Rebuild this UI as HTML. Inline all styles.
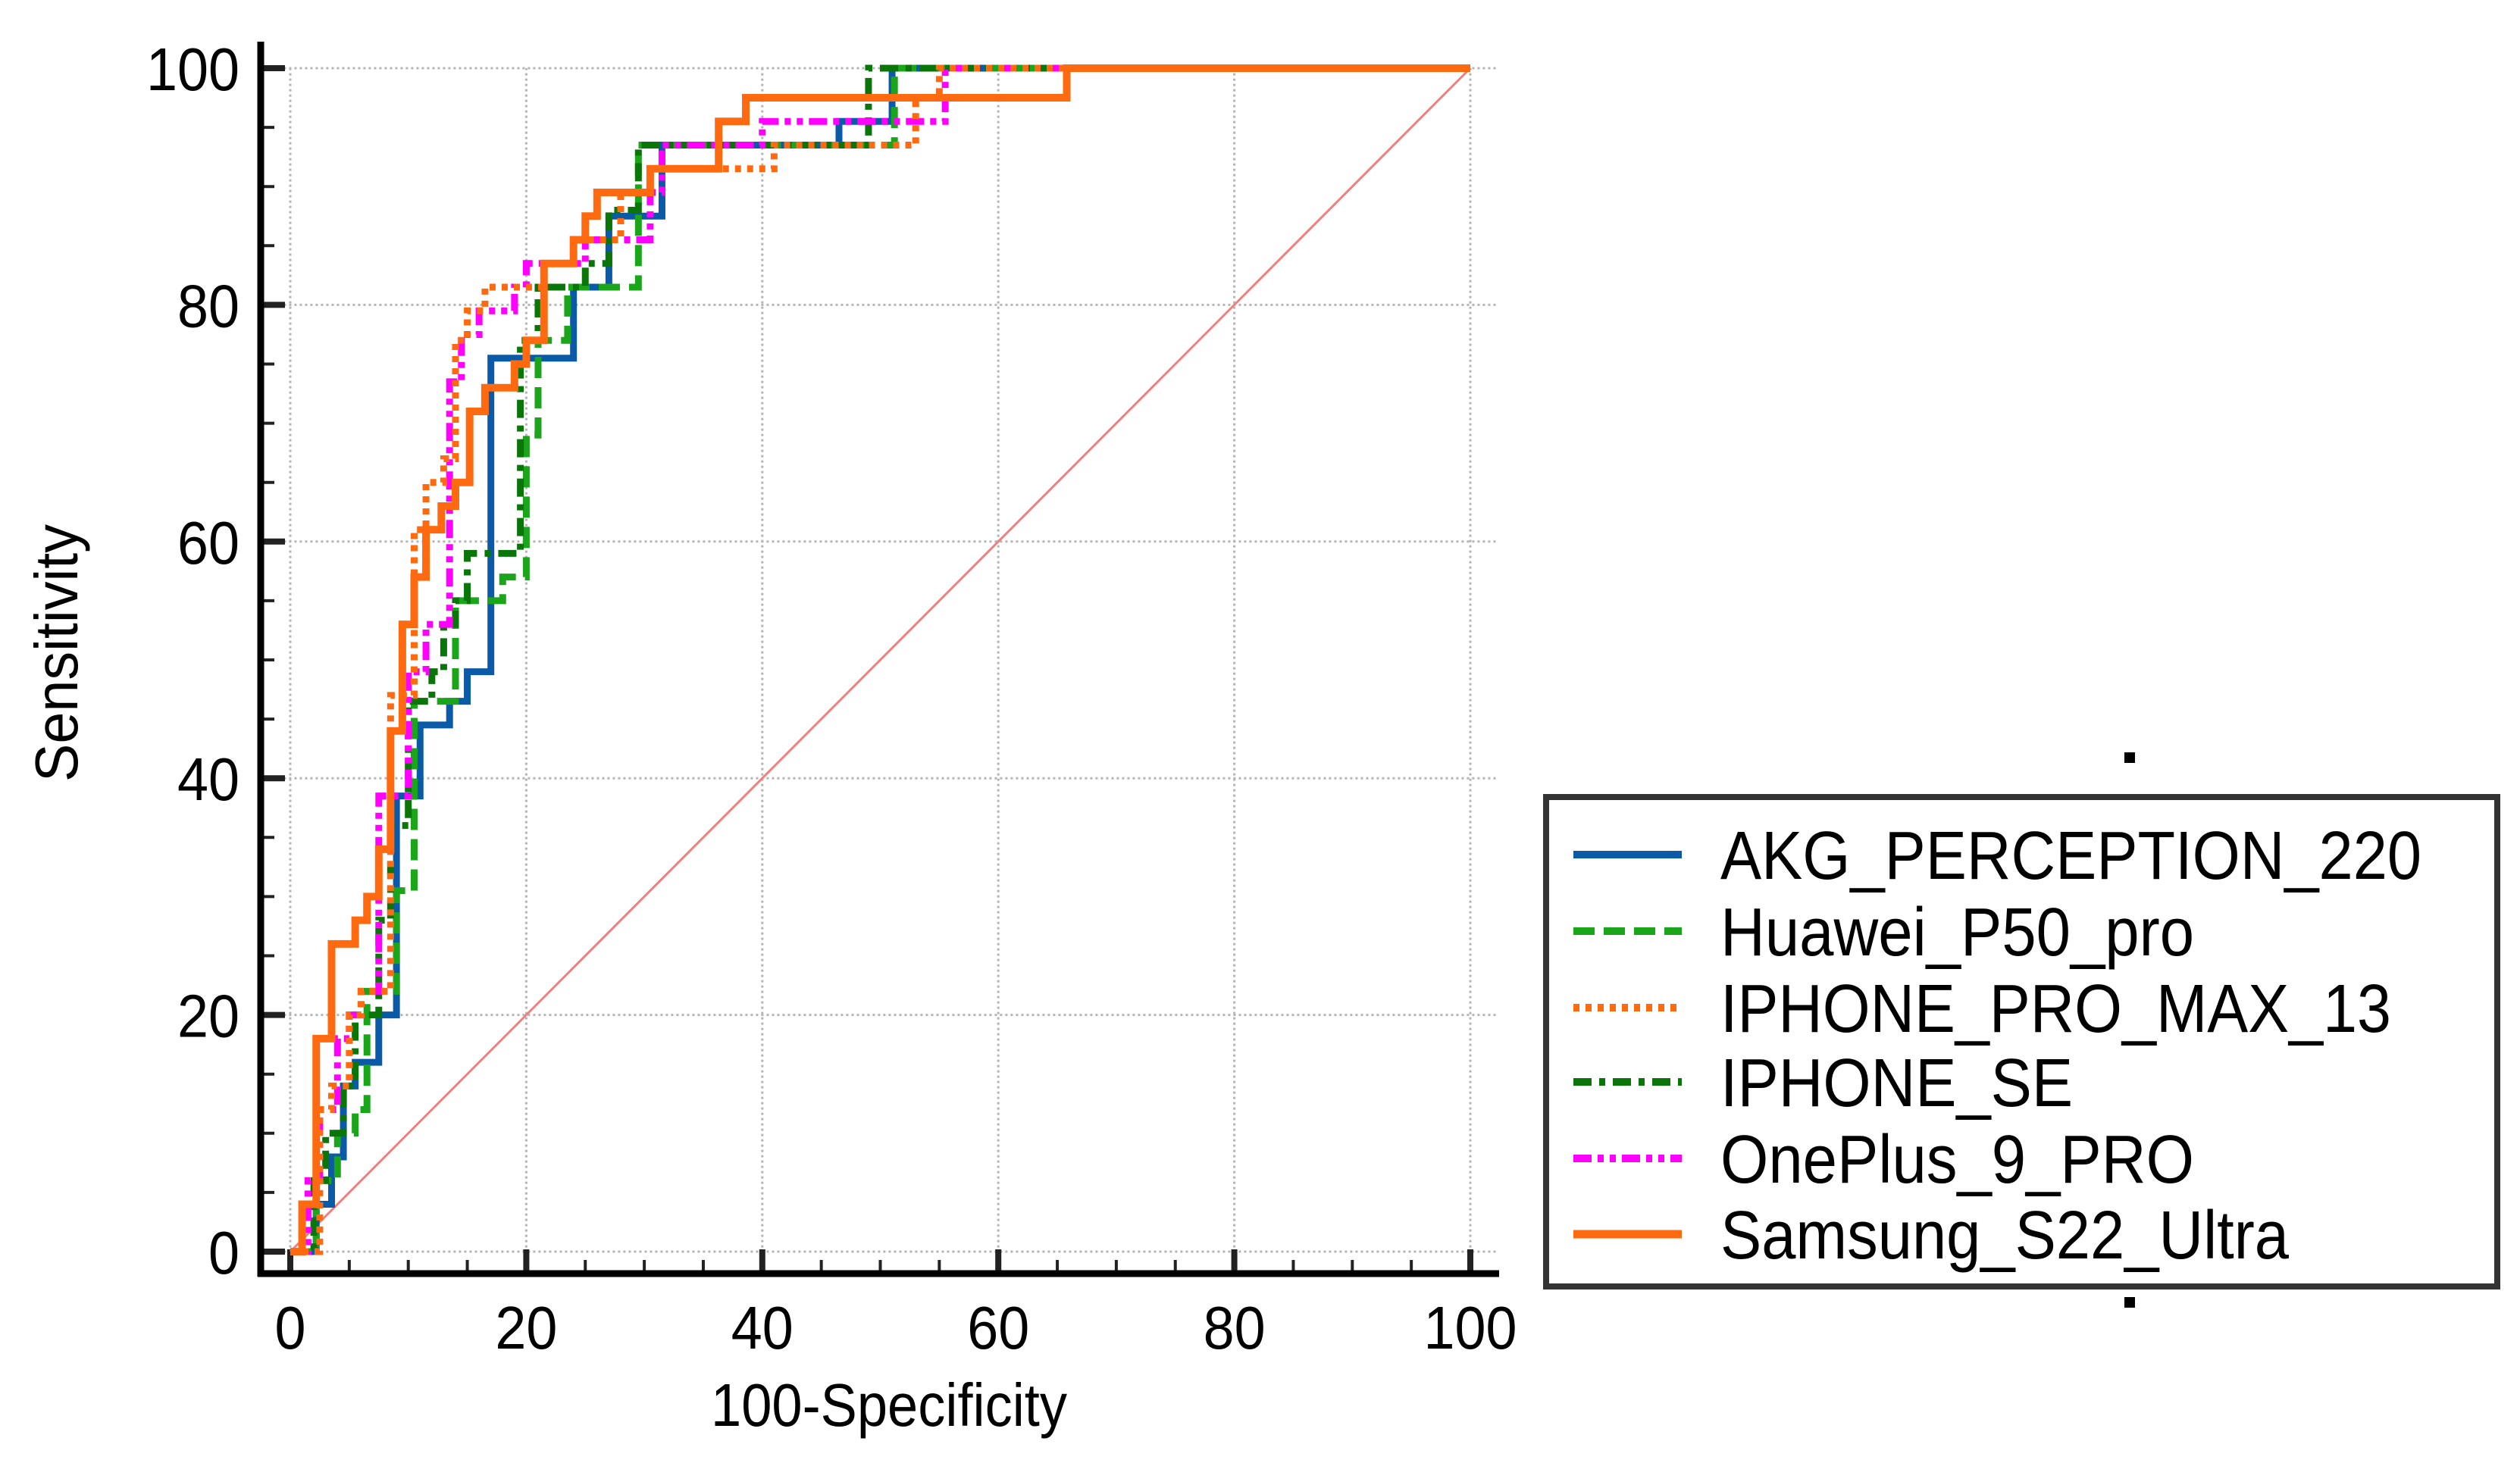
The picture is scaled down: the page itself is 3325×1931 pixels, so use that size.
<!DOCTYPE html>
<html><head><meta charset="utf-8"><style>
html,body{margin:0;padding:0;background:#fff;}
svg{display:block;font-family:"Liberation Sans",Arial,sans-serif;}
</style></head><body>
<svg id="chart" width="3325" height="1931" viewBox="0 0 3325 1931" xmlns="http://www.w3.org/2000/svg">
<g id="grid"></g>
<g id="axes"></g>
<g id="series"></g>
<text x="1173" y="1882" font-size="80" text-anchor="middle" textLength="470" lengthAdjust="spacingAndGlyphs">100-Specificity</text>
<text x="0" y="0" font-size="80" text-anchor="middle" textLength="340" lengthAdjust="spacingAndGlyphs" transform="translate(102,862) rotate(-90)">Sensitivity</text>
<rect x="2803" y="993" width="14" height="14" fill="#000"/>
<rect x="2803" y="1712" width="14" height="14" fill="#000"/>
<g id="legend">
<rect x="2040" y="1052" width="1255" height="646" fill="#fff" stroke="#333" stroke-width="8"/>
</g>
</svg>
<script>
const seriesNames = ["AKG_PERCEPTION_220","Huawei_P50_pro","IPHONE_PRO_MAX_13","IPHONE_SE","OnePlus_9_PRO","Samsung_S22_Ultra"];
const akgX = [0,2.2,3.5,4.5,5.5,7.5,9,11,13.5,15,17,24,27,31.5,46.5,51,100];
const akgY = [0,4,8,14,16,20,38.5,44.5,46.5,49,75.5,81.5,87.5,93.5,95.5,100,100];
const huaweiX = [0,2.2,4,5.5,6.5,9,10.5,14,18,20,21,23.5,29.5,51.2,100];
const huaweiY = [0,6,10,12,22,30.5,46.5,55,57,69,77,81.5,93.5,100,100];
const proMaxX = [0,2.5,3.5,5,6,8.5,10.5,11.5,13,14,15,16.5,21.5,24,28,30.5,41,53,55,100];
const proMaxY = [0,12,14,20,22,47,61,65,67,77,79.5,81.5,83.5,85.5,89.5,91.5,93.5,97.5,100,100];
const seX = [0,2,3,4.5,5.5,7.5,8.5,10,12,13,14,15,19.5,21,25,27,29.5,49,100];
const seY = [0,6,10,14,20,28,36,46.5,49,53,55,59,77,81.5,83.5,88,93.5,100,100];
const oneplusX = [0,1.5,2.5,4,5,6,7.5,10,11.5,13.5,14.5,16,19,20,25,30.5,31.5,40,51,55.5,100];
const oneplusY = [0,6,12,18,20,22,38.5,49,53,73.5,77.5,79.5,81.5,83.5,85.5,89.5,93.5,95.5,95.5,100,100];
const samsungX = [0,1,2.2,3.5,5.5,6.5,7.5,8.5,9.5,10.5,11.5,12.8,14,15.2,16.5,19,20,21.5,24,25,26,30.5,36.3,38.6,65.8,100];
const samsungY = [0,4,18,26,28,30,34,44,53,57,61,63,65,71,73,75,77,83.5,85.5,87.5,89.5,91.5,95.5,97.5,100,100];
const majorTicks = [0,20,40,60,80,100];
const tickLabels = ["0","20","40","60","80","100"];

const NS="http://www.w3.org/2000/svg";
const X0=383,X1=1940,Y0=1652,Y1=90;
function sx(v){return X0+(X1-X0)*v/100;}
function sy(v){return Y0+(Y1-Y0)*v/100;}
function mk(tag,attrs,parent){const e=document.createElementNS(NS,tag);for(const k in attrs)e.setAttribute(k,attrs[k]);parent.appendChild(e);return e;}
const grid=document.getElementById('grid'),axes=document.getElementById('axes'),ser=document.getElementById('series'),leg=document.getElementById('legend');

majorTicks.forEach((t,i)=>{
  let g=mk('line',{x1:sx(t),x2:sx(t),y1:sy(-1),y2:sy(100),stroke:'#b5b5b5','stroke-width':3,'stroke-dasharray':'3 4'},grid);
  
  
  let h=mk('line',{x1:sx(-1),x2:1975,y1:sy(t),y2:sy(t),stroke:'#b5b5b5','stroke-width':3,'stroke-dasharray':'3 4'},grid);
  
  
  const w=tickLabels[i].length*41;
  let xl=mk('text',{x:sx(t),y:1780,'font-size':80,'text-anchor':'middle',textLength:w,lengthAdjust:'spacingAndGlyphs'},axes);xl.textContent=tickLabels[i];
  
  
  let yl=mk('text',{x:316,y:sy(t)+29,'font-size':80,'text-anchor':'end',textLength:w,lengthAdjust:'spacingAndGlyphs'},axes);yl.textContent=tickLabels[i];
  
  
});
for(let v=0;v<=100;v+=5){
  const major=v%20===0;
  let a=mk('line',{x1:sx(v),x2:sx(v),y1:1681,y2:1681-(major?32:18),stroke:'#222','stroke-width':major?8:4},axes);
  
  
  let b=mk('line',{x1:344,x2:344+(major?32:18),y1:sy(v),y2:sy(v),stroke:'#222','stroke-width':major?8:4},axes);
  
  
}
let ya=mk('line',{x1:344,x2:344,y1:55,y2:1685,stroke:'#000','stroke-width':9},axes);


let xa=mk('line',{x1:340,x2:1978,y1:1681,y2:1681,stroke:'#000','stroke-width':9},axes);


let diag=mk('line',{x1:sx(0),y1:sy(0),x2:sx(100),y2:sy(100),stroke:'#ee8080','stroke-width':3},ser);



const styles=[
 {c:'#0b5aa8',d:'',w:9},
 {c:'#1ba51b',d:'28 12',w:9},
 {c:'#ff6a10',d:'8 8',w:9},
 {c:'#0a760a',d:'24 10 8 10',w:9},
 {c:'#ff00ff',d:'24 8 8 8 8 8',w:9},
 {c:'#ff6a10',d:'',w:10}
];
const xsAll=[akgX,huaweiX,proMaxX,seX,oneplusX,samsungX];
const ysAll=[akgY,huaweiY,proMaxY,seY,oneplusY,samsungY];
const order=[0,1,3,4,2,5];
order.forEach(i=>{
  const xs=xsAll[i],ys=ysAll[i];
  let d='M'+sx(xs[0])+' '+sy(ys[0]);
  for(let k=1;k<xs.length;k++){d+=' H'+sx(xs[k])+' V'+sy(ys[k]);}
  const p=mk('path',{d:d,fill:'none',stroke:styles[i].c,'stroke-width':styles[i].w,'stroke-dasharray':styles[i].d},ser);
  
  
});
const legYs=[1128,1229,1330,1428,1529,1629];
const legW=[925,625,885,465,625,750];
seriesNames.forEach((n,i)=>{
  const l=mk('line',{x1:2076,x2:2219,y1:legYs[i],y2:legYs[i],stroke:styles[i].c,'stroke-width':styles[i].w+1,'stroke-dasharray':styles[i].d},leg);
  
  
  const t=mk('text',{x:2270,y:legYs[i]+32,'font-size':90,textLength:legW[i],lengthAdjust:'spacingAndGlyphs'},leg);t.textContent=n;
  
  
});
</script>
</body></html>
